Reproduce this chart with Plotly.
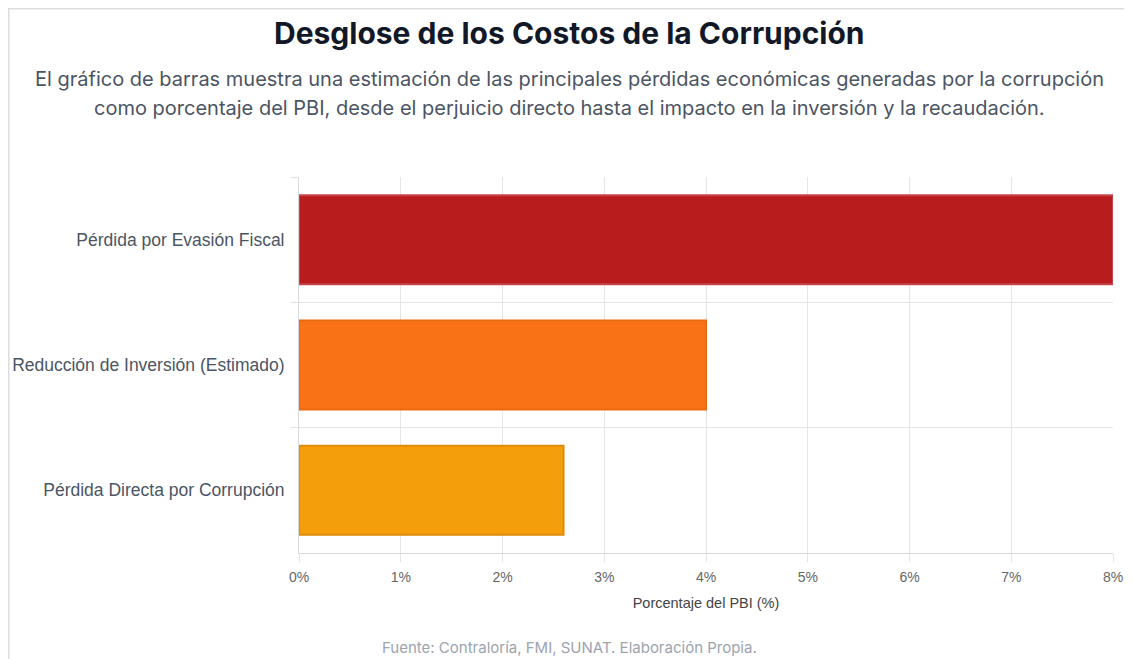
import plotly.graph_objects as go

# data
categories = ['Pérdida por Evasión Fiscal', 'Reducción de Inversión (Estimado)', 'Pérdida Directa por Corrupción']
values = [8.0, 4.0, 2.6]
fill_colors = ['#B91C1C', '#F97316', '#F59E0B']
line_colors = ['#C4444A', '#EA6A12', '#E08A0A']
x_ticks = [0, 1, 2, 3, 4, 5, 6, 7, 8]
x_tick_labels = ['0%', '1%', '2%', '3%', '4%', '5%', '6%', '7%', '8%']

title = 'Desglose de los Costos de la Corrupción'
subtitle_1 = 'El gráfico de barras muestra una estimación de las principales pérdidas económicas generadas por la corrupción'
subtitle_2 = 'como porcentaje del PBI, desde el perjuicio directo hasta el impacto en la inversión y la recaudación.'
source = 'Fuente: Contraloría, FMI, SUNAT. Elaboración Propia.'

W, H = 1124, 651          # page body has an 8px margin
L, R, T, B = 291, 19, 169, 106
plot_w, plot_h = W - L - R, H - T - B


def px(x, y):
    # figure pixel -> paper coords
    return (x - L) / plot_w, (T + plot_h - y) / plot_h


fig = go.Figure(go.Bar(
    y=categories, x=values, orientation='h',
    marker=dict(color=fill_colors, line=dict(color=line_colors, width=2)),
    hoverinfo='x+y',
))

grid = '#E5E5E5'
fig.update_layout(
    width=W, height=H,
    margin=dict(l=L, r=R, t=T, b=B),
    paper_bgcolor='white', plot_bgcolor='white',
    bargap=0.29,
    showlegend=False,
    font=dict(family='Liberation Sans, Arial, sans-serif', color='#666666'),
    xaxis=dict(
        range=[0, 8], tickvals=x_ticks, ticktext=x_tick_labels, automargin=False,
        showgrid=True, gridcolor=grid, gridwidth=1,
        ticks='outside', ticklen=8, tickcolor=grid, ticklabelstandoff=3,
        showline=True, linecolor='#D9D9D9', linewidth=1,
        zeroline=False, tickfont=dict(size=14, color='#666666'),
        title=dict(text='Porcentaje del PBI (%)', font=dict(size=14.5, color='#444444'), standoff=14),
    ),
    yaxis=dict(
        autorange='reversed', tickson='boundaries', automargin=False,
        showgrid=True, gridcolor=grid, gridwidth=1,
        ticks='outside', ticklen=8, tickcolor=grid, ticklabelstandoff=10,
        showline=True, linecolor='#D9D9D9', linewidth=1,
        tickfont=dict(size=17.5, color='#4B5563'),
    ),
)

texts = [
    ('<b>' + title + '</b>', 25, 30, '#111827'),
    (subtitle_1, 71, 20, '#4B5563'),
    (subtitle_2, 100, 20, '#4B5563'),
    (source, 639, 15, '#9CA3AF'),
]
for text, y, size, color in texts:
    ax, ay = px(W / 2 - 1, y)
    fig.add_annotation(text=text, x=ax, y=ay, xref='paper', yref='paper', showarrow=False,
                       xanchor='center', yanchor='middle',
                       font=dict(family='Inter, sans-serif', size=size, color=color))

# card border
x0, y0 = px(0.75, H + 20)
x1, y1 = px(W + 20, 0.75)
fig.add_shape(type='rect', xref='paper', yref='paper', x0=x0, x1=x1, y0=y0, y1=y1,
              line=dict(color='#DDDDDD', width=1.5), fillcolor='rgba(0,0,0,0)', layer='below')

fig.write_html('out.html')
